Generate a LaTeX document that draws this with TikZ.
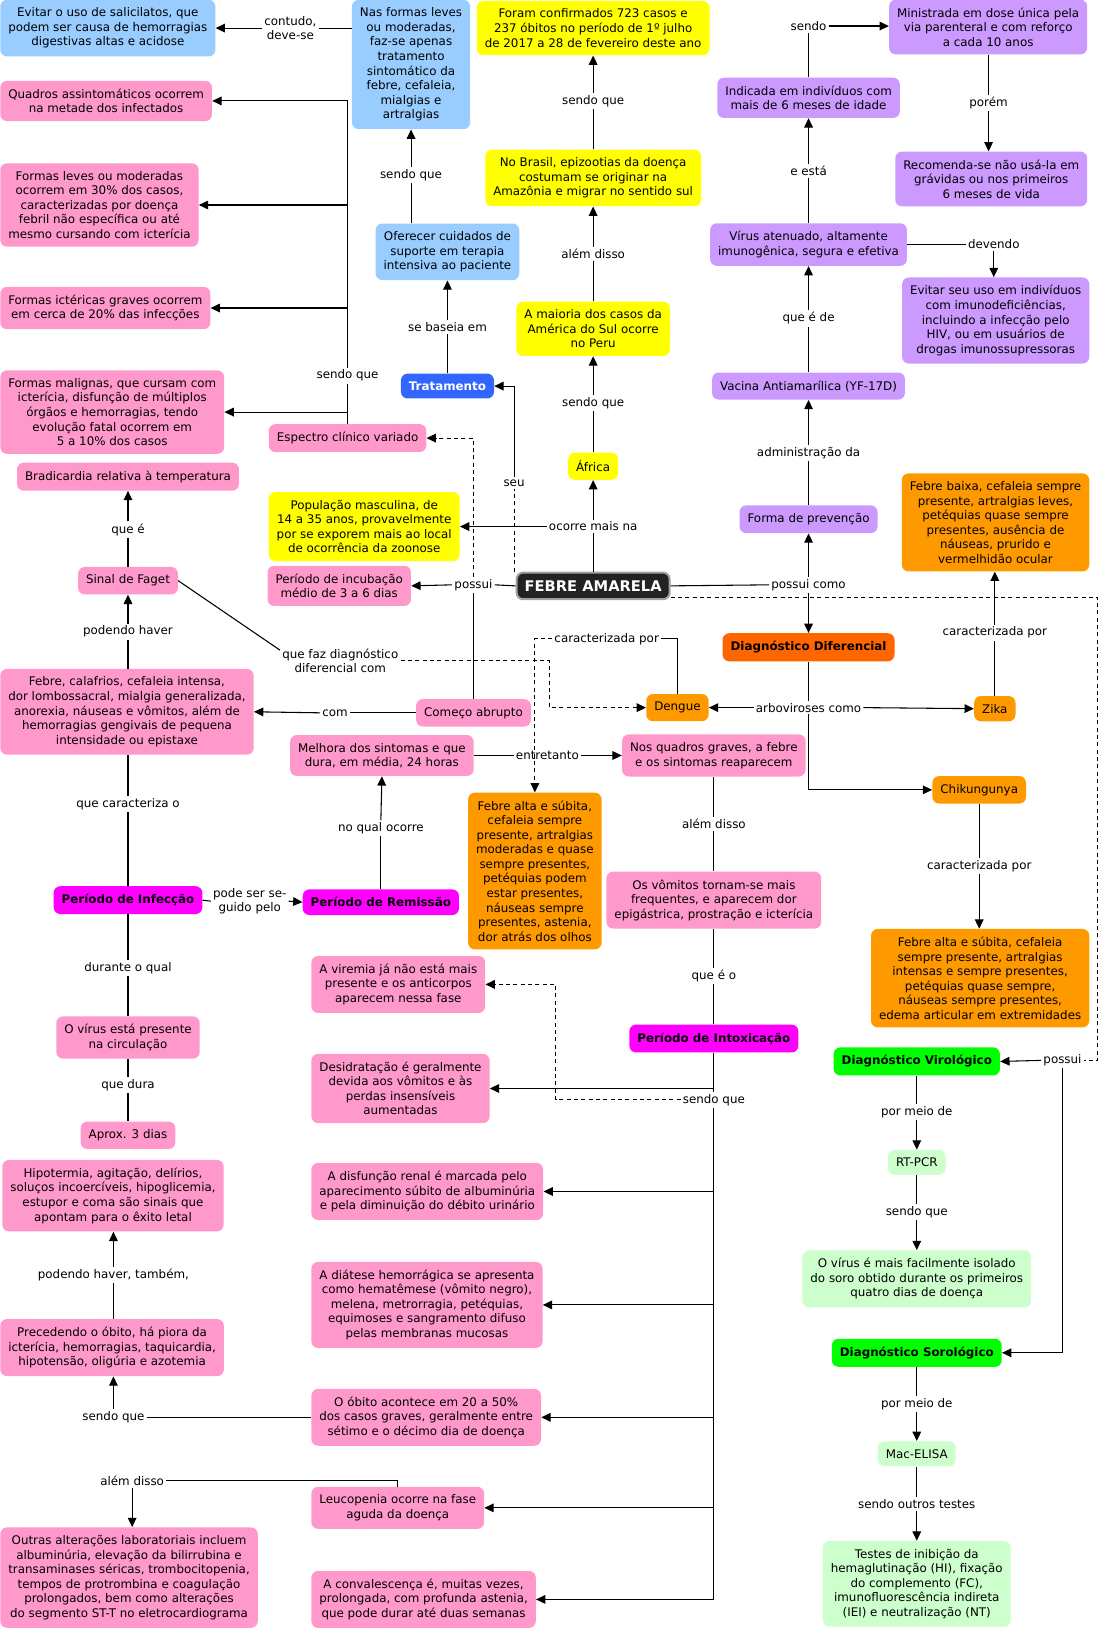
\documentclass[tikz,border=0pt]{standalone}
\usepackage{fontspec}
\setmainfont{DejaVu Sans}
\usepackage{tikz}
\usetikzlibrary{arrows.meta}

\definecolor{cmblue}{HTML}{99CCFF}
\definecolor{cmpink}{HTML}{FF99CC}
\definecolor{cmyellow}{HTML}{FFFF00}
\definecolor{cmpurple}{HTML}{CC99FF}
\definecolor{cmorange}{HTML}{FF9900}
\definecolor{cmred}{HTML}{FF6600}
\definecolor{cmtrat}{HTML}{3366FF}
\definecolor{cmmagenta}{HTML}{FF00FF}
\definecolor{cmgreen}{HTML}{00FF00}
\definecolor{cmlight}{HTML}{CCFFCC}
\definecolor{cmdark}{HTML}{222222}
\definecolor{cmgray}{HTML}{A0A0A0}

\newcommand\cmfont{\fontsize{8.9}{10.9}\selectfont}

\tikzset{
  concept/.style={rounded corners=5pt, inner xsep=6pt, inner ysep=6pt, align=center, font=\cmfont},
  bluec/.style={concept, fill=cmblue},
  pinkc/.style={concept, fill=cmpink},
  yellowc/.style={concept, fill=cmyellow},
  purplec/.style={concept, fill=cmpurple},
  orangec/.style={concept, fill=cmorange},
  lightc/.style={concept, fill=cmlight},
  boldc/.style={concept, font=\cmfont\bfseries},
  phrase/.style={fill=white, inner sep=1.5pt, align=center, font=\cmfont},
  link/.style={line width=0.8pt},
  arr/.style={link, -{Triangle[length=7pt,width=6.5pt]}},
  dline/.style={link, dash pattern=on 3pt off 2.5pt},
}

\begin{document}
\begin{tikzpicture}[x=0.78pt, y=-0.78pt]
  % Constants
  \pgfmathsetmacro\W{1060}
  \pgfmathsetmacro\H{1571.2}
  % Boundary
  \path[use as bounding box] (0,0) rectangle (\W,\H);

  % Centre
  \node[concept, fill=cmdark, draw=cmgray, line width=1.5pt, text=white,
    font=\fontsize{11}{13}\selectfont\bfseries] (fa) at (570,563) {FEBRE AMARELA};

  % Treatment
  \node[bluec, anchor=west] (salic) at (0,27) {Evitar o uso de salicilatos, que\\podem ser causa de hemorragias\\digestivas altas e acidose};
  \node[bluec] (formas) at (395,62) {Nas formas leves\\ou moderadas,\\faz-se apenas\\tratamento\\sintomático da\\febre, cefaleia,\\mialgias e\\artralgias};
  \node[bluec] (cuidados) at (430,242) {Oferecer cuidados de\\suporte em terapia\\intensiva ao paciente};
  \node[boldc, fill=cmtrat, text=white] (trat) at (430,371) {Tratamento};
  \node[phrase] (contudo) at (279,27) {contudo,\\deve-se};
  \node[phrase] (sq1) at (395,168) {sendo que};
  \node[phrase] (baseia) at (430,314) {se baseia em};
  \node[phrase] (seu) at (494,464) {seu};

  % Epidemiology
  \node[yellowc] (casos) at (570,27) {Foram confirmados 723 casos e\\237 óbitos no período de 1º julho\\de 2017 a 28 de fevereiro deste ano};
  \node[yellowc] (epizo) at (570,171) {No Brasil, epizootias da doença\\costumam se originar na\\Amazônia e migrar no sentido sul};
  \node[yellowc] (maioria) at (570,316) {A maioria dos casos da\\América do Sul ocorre\\no Peru};
  \node[yellowc] (africa) at (570,448) {África};
  \node[yellowc] (pop) at (350,506) {População masculina, de\\14 a 35 anos, provavelmente\\por se exporem mais ao local\\de ocorrência da zoonose};
  \node[phrase] (sq6) at (570,97) {sendo que};
  \node[phrase] (alem0) at (570,244) {além disso};
  \node[phrase] (sq5) at (570,387) {sendo que};
  \node[phrase] (ocorre) at (570,506) {ocorre mais na};

  % Clinical spectrum
  \node[pinkc] (incub) at (326,563) {Período de incubação\\médio de 3 a 6 dias};
  \node[pinkc] (espectro) at (334,421) {Espectro clínico variado};
  \node[pinkc, anchor=west] (quadros) at (0,97) {Quadros assintomáticos ocorrem\\na metade dos infectados};
  \node[pinkc, anchor=west] (fleves) at (0,197) {Formas leves ou moderadas\\ocorrem em 30\% dos casos,\\caracterizadas por doença\\febril não específica ou até\\mesmo cursando com icterícia};
  \node[pinkc, anchor=west] (icter) at (0,296) {Formas ictéricas graves ocorrem\\em cerca de 20\% das infecções};
  \node[pinkc, anchor=west] (malig) at (0,396) {Formas malignas, que cursam com\\icterícia, disfunção de múltiplos\\órgãos e hemorragias, tendo\\evolução fatal ocorrem em\\5 a 10\% dos casos};
  \node[phrase] (possui) at (455,562) {possui};
  \node[phrase] (sq2) at (334,361) {sendo que};

  % Infection period
  \node[pinkc] (brad) at (123,458) {Bradicardia relativa à temperatura};
  \node[pinkc] (faget) at (123,558) {Sinal de Faget};
  \node[pinkc, anchor=west] (sint) at (0,684) {Febre, calafrios, cefaleia intensa,\\dor lombossacral, mialgia generalizada,\\anorexia, náuseas e vômitos, além de\\hemorragias gengivais de pequena\\intensidade ou epistaxe};
  \node[pinkc] (comeco) at (455,685) {Começo abrupto};
  \node[boldc, fill=cmmagenta] (infec) at (123,865) {Período de Infecção};
  \node[pinkc] (viruscirc) at (123,997) {O vírus está presente\\na circulação};
  \node[pinkc] (aprox) at (123,1091) {Aprox. 3 dias};
  \node[phrase] (quee) at (123,509) {que é};
  \node[phrase] (podendo) at (123,607) {podendo haver};
  \node[phrase] (diff) at (327,635) {que faz diagnóstico\\diferencial com};
  \node[phrase] (com) at (322,685) {com};
  \node[phrase] (caract) at (123,773) {que caracteriza o};
  \node[phrase] (durante) at (123,930) {durante o qual};
  \node[phrase] (dura) at (123,1043) {que dura};

  % Remission and intoxication
  \node[boldc, fill=cmmagenta] (remis) at (366,867) {Período de Remissão};
  \node[pinkc] (melhora) at (367,726) {Melhora dos sintomas e que\\dura, em média, 24 horas};
  \node[pinkc] (graves) at (686,726) {Nos quadros graves, a febre\\e os sintomas reaparecem};
  \node[pinkc] (vomitos) at (686,865) {Os vômitos tornam-se mais\\frequentes, e aparecem dor\\epigástrica, prostração e icterícia};
  \node[boldc, fill=cmmagenta] (intox) at (686,998) {Período de Intoxicação};
  \node[phrase] (seguido) at (240,866) {pode ser se-\\guido pelo};
  \node[phrase] (noqual) at (366,796) {no qual ocorre};
  \node[phrase] (entret) at (526,726) {entretanto};
  \node[phrase] (alem1) at (686,792) {além disso};
  \node[phrase] (queeo) at (686,938) {que é o};
  \node[phrase] (sq3) at (686,1057) {sendo que};
  \node[pinkc, anchor=west] (viremia) at (299,946) {A viremia já não está mais\\presente e os anticorpos\\aparecem nessa fase};
  \node[pinkc, anchor=west] (desid) at (299,1046) {Desidratação é geralmente\\devida aos vômitos e às\\perdas insensíveis\\aumentadas};
  \node[pinkc, anchor=west] (renal) at (299,1145) {A disfunção renal é marcada pelo\\aparecimento súbito de albuminúria\\e pela diminuição do débito urinário};
  \node[pinkc, anchor=west] (diatese) at (299,1254) {A diátese hemorrágica se apresenta\\como hematêmese (vômito negro),\\melena, metrorragia, petéquias,\\equimoses e sangramento difuso\\pelas membranas mucosas};
  \node[pinkc, anchor=west] (obito) at (299,1362) {O óbito acontece em 20 a 50\%\\dos casos graves, geralmente entre\\sétimo e o décimo dia de doença};
  \node[pinkc, anchor=west] (leuco) at (299,1449) {Leucopenia ocorre na fase\\aguda da doença};
  \node[pinkc, anchor=west] (conval) at (299,1537) {A convalescença é, muitas vezes,\\prolongada, com profunda astenia,\\que pode durar até duas semanas};
  \node[pinkc, anchor=west] (hipot) at (2,1149) {Hipotermia, agitação, delírios,\\soluços incoercíveis, hipoglicemia,\\estupor e coma são sinais que\\apontam para o êxito letal};
  \node[pinkc, anchor=west] (preced) at (0,1295) {Precedendo o óbito, há piora da\\icterícia, hemorragias, taquicardia,\\hipotensão, oligúria e azotemia};
  \node[pinkc, anchor=west] (outras) at (0,1516) {Outras alterações laboratoriais incluem\\albuminúria, elevação da bilirrubina e\\transaminases séricas, trombocitopenia,\\tempos de protrombina e coagulação\\prolongados, bem como alterações\\do segmento ST-T no eletrocardiograma};
  \node[phrase] (sq4) at (109,1362) {sendo que};
  \node[phrase] (tambem) at (109,1225) {podendo haver, também,};
  \node[phrase] (alem2) at (127,1423) {além disso};

  % Vaccine
  \node[purplec, anchor=east] (ministrada) at (1045,26) {Ministrada em dose única pela\\via parenteral e com reforço\\a cada 10 anos};
  \node[purplec] (indicada) at (777,94) {Indicada em indivíduos com\\mais de 6 meses de idade};
  \node[purplec, anchor=east] (recomenda) at (1045,172) {Recomenda-se não usá-la em\\grávidas ou nos primeiros\\6 meses de vida};
  \node[purplec] (virus) at (777,235) {Vírus atenuado, altamente\\imunogênica, segura e efetiva};
  \node[purplec, anchor=east] (evitar2) at (1047,308) {Evitar seu uso em indivíduos\\com imunodeficiências,\\incluindo a infecção pelo\\HIV, ou em usuários de\\drogas imunossupressoras};
  \node[purplec] (vacina) at (777,371) {Vacina Antiamarílica (YF-17D)};
  \node[purplec] (forma) at (777,499) {Forma de prevenção};
  \node[phrase] (sendo) at (777,25) {sendo};
  \node[phrase] (porem) at (950,99) {porém};
  \node[phrase] (eesta) at (777,164) {e está};
  \node[phrase] (devendo) at (955,235) {devendo};
  \node[phrase] (quede) at (777,306) {que é de};
  \node[phrase] (admin) at (777,435) {administração da};
  \node[phrase] (pcomo) at (777,562) {possui como};

  % Differential diagnosis
  \node[boldc, fill=cmred] (diagdif) at (777,622) {Diagnóstico Diferencial};
  \node[orangec] (dengue) at (651,680) {Dengue};
  \node[orangec] (zika) at (956,681) {Zika};
  \node[orangec] (chik) at (941,759) {Chikungunya};
  \node[orangec, anchor=east] (fzika) at (1047,502) {Febre baixa, cefaleia sempre\\presente, artralgias leves,\\petéquias quase sempre\\presentes, ausência de\\náuseas, prurido e\\vermelhidão ocular};
  \node[orangec, anchor=east] (fchik) at (1047,940) {Febre alta e súbita, cefaleia\\sempre presente, artralgias\\intensas e sempre presentes,\\petéquias quase sempre,\\náuseas sempre presentes,\\edema articular em extremidades};
  \node[orangec] (fdeng) at (514,837) {Febre alta e súbita,\\cefaleia sempre\\presente, artralgias\\moderadas e quase\\sempre presentes,\\petéquias podem\\estar presentes,\\náuseas sempre\\presentes, astenia,\\dor atrás dos olhos};
  \node[phrase] (arbov) at (777,680) {arboviroses como};
  \node[phrase] (cdeng) at (583,614) {caracterizada por};
  \node[phrase] (czika) at (956,608) {caracterizada por};
  \node[phrase] (cchik) at (941,832) {caracterizada por};

  % Laboratory diagnosis
  \node[boldc, fill=cmgreen] (viro) at (881,1020) {Diagnóstico Virológico};
  \node[lightc] (rtpcr) at (881,1117) {RT-PCR};
  \node[lightc] (isolado) at (881,1229) {O vírus é mais facilmente isolado\\do soro obtido durante os primeiros\\quatro dias de doença};
  \node[boldc, fill=cmgreen] (soro) at (881,1300) {Diagnóstico Sorológico};
  \node[lightc] (mac) at (881,1397) {Mac-ELISA};
  \node[lightc] (testes) at (881,1522) {Testes de inibição da\\hemaglutinação (HI), fixação\\do complemento (FC),\\imunofluorescência indireta\\(IEI) e neutralização (NT)};
  \node[phrase] (possui2) at (1021,1019) {possui};
  \node[phrase] (pm1) at (881,1069) {por meio de};
  \node[phrase] (sq7) at (881,1165) {sendo que};
  \node[phrase] (pm2) at (881,1349) {por meio de};
  \node[phrase] (outros) at (881,1445) {sendo outros testes};

  % Corners of the dashed links
  \coordinate (dk) at (528,0);
  \coordinate (vk) at (534,0);
  \coordinate (fr) at (1055,574);

  % Treatment links
  \draw[link] (trat.north) -- (baseia.south);
  \draw[arr] (baseia.north) -- (cuidados.south);
  \draw[link] (sq1.south |- cuidados.north) -- (sq1.south);
  \draw[arr] (sq1.north) -- (formas.south);
  \draw[link] (contudo.east -| formas.west) -- (contudo.east);
  \draw[arr] (contudo.west) -- (salic.east);
  \draw[dline] (seu.south |- fa.north) -- (seu.south);
  \draw[arr] (seu.north) |- (trat.east);

  % Epidemiology links
  \draw[link] (fa.north) -- (ocorre.south);
  \draw[arr] (ocorre.north) -- (africa.south);
  \draw[arr] (ocorre.west) -- (ocorre.west -| pop.east);
  \draw[link] (africa.north) -- (sq5.south);
  \draw[arr] (sq5.north) -- (maioria.south);
  \draw[link] (maioria.north) -- (alem0.south);
  \draw[arr] (alem0.north) -- (epizo.south);
  \draw[link] (epizo.north) -- (sq6.south);
  \draw[arr] (sq6.north) -- (casos.south);

  % Spectrum links
  \draw[link] (fa.west) -- (possui.east);
  \draw[arr] (possui.west) -- (incub.east);
  \draw[link] (possui.south) -- (comeco.north);
  \draw[arr, dline] (possui.north) |- (espectro.east);
  \draw[link] (espectro.north) -- (sq2.south);
  \draw[arr] (sq2.north) |- (quadros.east);
  \draw[arr] (sq2.north) |- (fleves.east);
  \draw[arr] (sq2.north) |- (icter.east);
  \draw[arr] (sq2.south) |- (malig.east);

  % Infection links
  \draw[link] (comeco.west) -- (com.east);
  \draw[arr] (com.west) -- (sint.east);
  \draw[link] (podendo.south |- sint.north) -- (podendo.south);
  \draw[arr] (podendo.north) -- (faget.south);
  \draw[link] (faget.north) -- (quee.south);
  \draw[arr] (quee.north) -- (brad.south);
  \draw[link] (faget.east) -- (diff.170);
  \draw[arr, dline] (diff.east) -- (diff.east -| dk) |- (dengue.west);
  \draw[link] (infec.north) -- (caract.south);
  \draw[link] (caract.north) -- (caract.north |- sint.south);
  \draw[link] (infec.south) -- (durante.north);
  \draw[link] (durante.south) -- (viruscirc.north);
  \draw[link] (viruscirc.south) -- (dura.north);
  \draw[link] (dura.south) -- (aprox.north);
  \draw[link] (infec.east) -- (seguido.west);
  \draw[arr] (seguido.east) -- (remis.west);

  % Remission and intoxication links
  \draw[link] (remis.north) -- (noqual.south);
  \draw[arr] (noqual.north) -- (melhora.south);
  \draw[link] (melhora.east) -- (entret.west);
  \draw[arr] (entret.east) -- (graves.west);
  \draw[link] (graves.south) -- (alem1.north);
  \draw[link] (alem1.south) -- (vomitos.north);
  \draw[link] (vomitos.south) -- (queeo.north);
  \draw[link] (queeo.south) -- (intox.north);
  \draw[link] (intox.south) -- (sq3.north);
  \draw[arr] (sq3.north) |- (desid.east);
  \draw[arr, dline] (sq3.west) -| (vk |- viremia.east) -- (viremia.east);
  \draw[arr] (sq3.south) |- (renal.east);
  \draw[arr] (sq3.south) |- (diatese.east);
  \draw[arr] (sq3.south) |- (obito.east);
  \draw[arr] (sq3.south) |- (leuco.east);
  \draw[arr] (sq3.south) |- (conval.east);
  \draw[link] (obito.west) -- (sq4.east);
  \draw[arr] (sq4.north) -- (sq4.north |- preced.south);
  \draw[link] (tambem.south |- preced.north) -- (tambem.south);
  \draw[arr] (tambem.north) -- (tambem.north |- hipot.south);
  \draw[link] (leuco.north) |- (alem2.east);
  \draw[arr] (alem2.south) -- (alem2.south |- outras.north);

  % Vaccine links
  \draw[link] (fa.east) -- (pcomo.west);
  \draw[arr] (pcomo.north) -- (forma.south);
  \draw[arr] (pcomo.south) -- (diagdif.north);
  \draw[link] (forma.north) -- (admin.south);
  \draw[arr] (admin.north) -- (vacina.south);
  \draw[link] (vacina.north) -- (quede.south);
  \draw[arr] (quede.north) -- (virus.south);
  \draw[link] (virus.north) -- (eesta.south);
  \draw[arr] (eesta.north) -- (indicada.south);
  \draw[link] (indicada.north) -- (sendo.south);
  \draw[arr] (sendo.east) -- (sendo.east -| ministrada.west);
  \draw[link] (porem.north |- ministrada.south) -- (porem.north);
  \draw[arr] (porem.south) -- (porem.south |- recomenda.north);
  \draw[link] (virus.east) -- (devendo.west);
  \draw[arr] (devendo.south) -- (devendo.south |- evitar2.north);

  % Differential links
  \draw[link] (diagdif.south) -- (arbov.north);
  \draw[arr] (arbov.west) -- (dengue.east);
  \draw[arr] (arbov.east) -- (zika.west);
  \draw[arr] (arbov.south) |- (chik.west);
  \draw[link] (zika.north) -- (czika.south);
  \draw[arr] (czika.north) -- (czika.north |- fzika.south);
  \draw[link] (chik.south) -- (cchik.north);
  \draw[arr] (cchik.south) -- (cchik.south |- fchik.north);
  \draw[link] (dengue.north) |- (cdeng.east);
  \draw[arr, dline] (cdeng.west) -| (fdeng.north);

  % Laboratory links
  \draw[dline] (fa.east |- fr) -- (fr) |- (possui2.east);
  \draw[arr] (possui2.west) -- (viro.east);
  \draw[arr] (possui2.south) |- (soro.east);
  \draw[link] (viro.south) -- (pm1.north);
  \draw[arr] (pm1.south) -- (rtpcr.north);
  \draw[link] (rtpcr.south) -- (sq7.north);
  \draw[arr] (sq7.south) -- (isolado.north);
  \draw[link] (soro.south) -- (pm2.north);
  \draw[arr] (pm2.south) -- (mac.north);
  \draw[link] (mac.south) -- (outros.north);
  \draw[arr] (outros.south) -- (testes.north);
\end{tikzpicture}
\end{document}
